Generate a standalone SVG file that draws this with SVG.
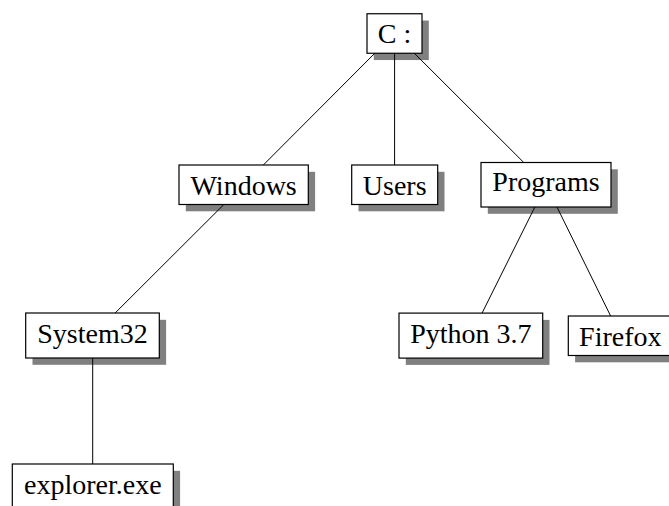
<svg xmlns="http://www.w3.org/2000/svg" width="669" height="506" viewBox="0 0 669 506">
  <style>
    .shadow { fill: #808080; }
    .box { fill: #ffffff; stroke: #000000; stroke-width: 1.2; }
    .label { font-family: "Liberation Serif", "Times New Roman", serif; font-size: 28px; fill: #000000; text-anchor: middle; }
    .edge { stroke: #000000; stroke-width: 1; fill: none; }
  </style>
  <rect width="669" height="506" fill="#ffffff"/>

  <!-- folder nodes: drop shadow, frame, name -->
  <g id="node-c">
    <rect class="shadow" x="373.8" y="20.55" width="55" height="39.5"/>
    <rect class="box" x="367" y="13.75" width="55" height="39.5"/>
    <text class="label" x="394.5" y="43.25">C :</text>
  </g>
  <g id="node-windows">
    <rect class="shadow" x="185.8" y="171.8" width="129.3" height="39.5"/>
    <rect class="box" x="179" y="165" width="129.3" height="39.5"/>
    <text class="label" x="243.65" y="194.5">Windows</text>
  </g>
  <g id="node-users">
    <rect class="shadow" x="358.5" y="171.8" width="86" height="39.5"/>
    <rect class="box" x="351.7" y="165" width="86" height="39.5"/>
    <text class="label" x="394.7" y="194.5">Users</text>
  </g>
  <g id="node-programs">
    <rect class="shadow" x="487.8" y="169.3" width="130" height="44.5"/>
    <rect class="box" x="481" y="162.5" width="130" height="44.5"/>
    <text class="label" x="546" y="191">Programs</text>
  </g>
  <g id="node-system32">
    <rect class="shadow" x="32.5" y="319.8" width="133.6" height="45"/>
    <rect class="box" x="25.7" y="313" width="133.6" height="45"/>
    <text class="label" x="92.5" y="342.5">System32</text>
  </g>
  <g id="node-python">
    <rect class="shadow" x="405.8" y="319.9" width="143.7" height="45"/>
    <rect class="box" x="399" y="313.1" width="143.7" height="45"/>
    <text class="label" x="470.85" y="342.6">Python 3.7</text>
  </g>
  <g id="node-firefox">
    <rect class="shadow" x="575.1" y="322.8" width="104" height="39.5"/>
    <rect class="box" x="568.3" y="316" width="104" height="39.5"/>
    <text class="label" x="620.3" y="345.5">Firefox</text>
  </g>
  <g id="node-explorer">
    <rect class="shadow" x="19.1" y="470.8" width="161" height="44.5"/>
    <rect class="box" x="12.3" y="464" width="161" height="44.5"/>
    <text class="label" x="92.8" y="493.5">explorer.exe</text>
  </g>

  <!-- tree links, trimmed to the frame borders and laid over the shadows -->
  <g id="connectors">
    <line class="edge" x1="374.8" y1="53.25" x2="263.35" y2="165"/>
    <line class="edge" x1="394.6" y1="53.25" x2="394.6" y2="165"/>
    <line class="edge" x1="414.3" y1="53.25" x2="523.75" y2="162.5"/>
    <line class="edge" x1="223.86" y1="204.5" x2="115.15" y2="313"/>
    <line class="edge" x1="92.7" y1="358" x2="92.7" y2="464"/>
    <line class="edge" x1="534.9" y1="207" x2="482.06" y2="313.1"/>
    <line class="edge" x1="556.98" y1="207" x2="610.65" y2="316"/>
  </g>
</svg>
